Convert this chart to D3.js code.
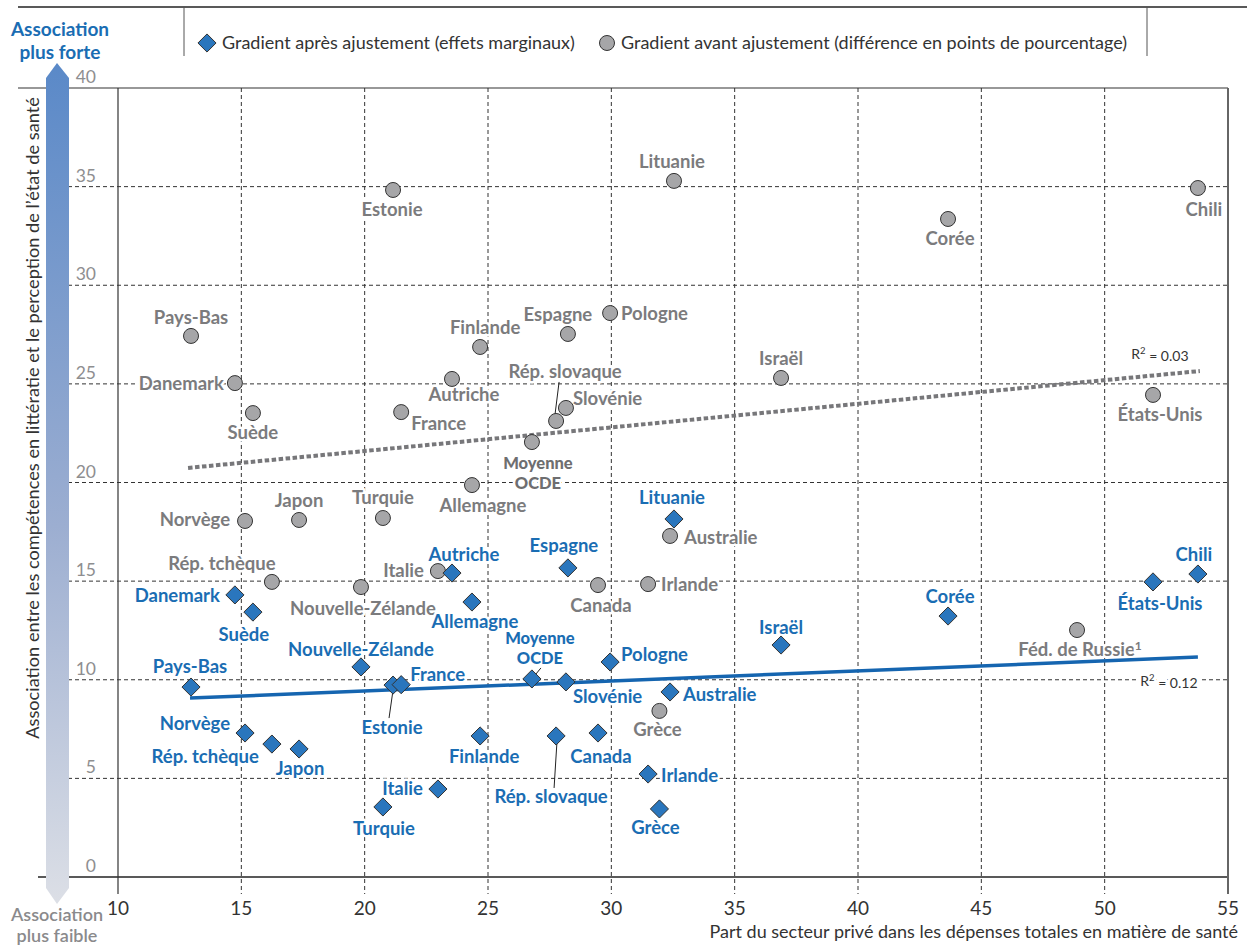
<!DOCTYPE html>
<html lang="fr">
<head>
<meta charset="utf-8">
<script src="https://cdn.jsdelivr.net/npm/d3@7"></script>
<style>
  html, body { margin: 0; padding: 0; background: #fff; }
  svg { display: block; font-family: Lato, "Open Sans", sans-serif; }
</style>
</head>
<body>
<svg id="chart" width="1247" height="945"></svg>
<script>
// Pays / économies
const countries = ["Pays-Bas", "Danemark", "Suède", "Norvège", "Rép. tchèque", "Japon",
  "Nouvelle-Zélande", "Turquie", "Estonie", "France", "Italie", "Autriche", "Allemagne",
  "Finlande", "Moyenne OCDE", "Rép. slovaque", "Slovénie", "Espagne", "Canada", "Pologne",
  "Irlande", "Grèce", "Australie", "Lituanie", "Israël", "Corée", "Féd. de Russie",
  "États-Unis", "Chili"];

// Part du secteur privé dans les dépenses totales de santé (%)
const privateShare = [12.96, 14.74, 15.47, 15.15, 16.24, 17.34, 19.85, 20.74, 21.15, 21.48,
  22.97, 23.54, 24.35, 24.68, 26.78, 27.76, 28.16, 28.24, 29.46, 29.95, 31.49, 31.95, 32.38,
  32.54, 36.88, 43.65, 48.88, 51.96, 53.78];

// Gradient avant ajustement (différence en points de pourcentage)
const gradientBefore = [27.43, 25.04, 23.52, 18.05, 14.96, 18.10, 14.70, 18.20, 34.83, 23.57,
  15.51, 25.25, 19.87, 26.87, 22.05, 23.12, 23.78, 27.53, 14.80, 28.59, 14.85, 8.42, 17.29,
  35.29, 25.30, 33.36, 12.52, 24.44, 34.93];

// Gradient après ajustement (effets marginaux)
const gradientAfter = [9.63, 14.30, 13.43, 7.30, 6.74, 6.49, 10.65, 3.55, 9.73, 9.75,
  4.46, 15.41, 13.94, 7.15, 10.04, 7.15, 9.89, 15.67, 7.30, 10.90, 5.22, 3.45, 9.38,
  18.15, 11.76, 13.23, null, 14.96, 15.36];

// Droites de tendance (extrémités) et R²
const trendBeforeX = [12.84, 53.86], trendBeforeY = [20.74, 25.65];
const trendAfterX = [12.92, 53.78], trendAfterY = [9.07, 11.15];
const r2Labels = ["0.03", "0.12"];

const xTicks = [10, 15, 20, 25, 30, 35, 40, 45, 50, 55];
const yTicks = [0, 5, 10, 15, 20, 25, 30, 35, 40];

// Placement des étiquettes : [dx, dy, ancrage, (leader x1,y1,x2,y2 relatifs)]
const placeBefore = {
  "Pays-Bas": [0, -18, "middle"], "Danemark": [-11, 0, "end"], "Suède": [0, 19, "middle"],
  "Norvège": [-15, -1, "end"], "Rép. tchèque": [-50, -18, "middle"], "Japon": [0, -19, "middle"],
  "Nouvelle-Zélande": [2, 21, "middle"], "Turquie": [0, -20, "middle"], "Estonie": [-1, 20, "middle"],
  "France": [10, 11, "start"], "Italie": [-14, -1, "end"], "Autriche": [12, 16, "middle"],
  "Allemagne": [11, 20, "middle"], "Finlande": [5, -19, "middle"],
  "Moyenne OCDE": [6, 21, "middle"],
  "Rép. slovaque": [9, -49, "middle", [3, -39, -1, -7]], "Slovénie": [7, -9, "start"],
  "Espagne": [-10, -19, "middle"], "Canada": [3, 20, "middle"], "Pologne": [11, 0, "start"],
  "Irlande": [13, 0, "start"], "Grèce": [-2, 19, "middle"], "Australie": [14, 2, "start"],
  "Lituanie": [-2, -19, "middle"], "Israël": [0, -19, "middle"], "Corée": [2, 20, "middle"],
  "Féd. de Russie": [3, 19, "middle"], "États-Unis": [7, 20, "middle"], "Chili": [6, 22, "middle"]
};
const placeAfter = {
  "Pays-Bas": [-1, -21, "middle"], "Danemark": [-15, 1, "end"], "Suède": [-9, 22, "middle"],
  "Norvège": [-15, -9, "end"], "Rép. tchèque": [-13, 12, "end"], "Japon": [1, 20, "middle"],
  "Nouvelle-Zélande": [0, -17, "middle"], "Turquie": [1, 22, "middle"],
  "Estonie": [-1, 42, "middle", [0, 5, -4, 33]], "France": [9, -10, "start"],
  "Italie": [-15, -1, "end"], "Autriche": [12, -19, "middle"], "Allemagne": [3, 19, "middle"],
  "Finlande": [4, 21, "middle"], "Moyenne OCDE": [8, -41, "middle", [0, 0, 9, -11]],
  "Rép. slovaque": [-5, 61, "middle", [1, 4, -2, 52]], "Slovénie": [7, 15, "start"],
  "Espagne": [-4, -22, "middle"], "Canada": [3, 24, "middle"], "Pologne": [11, -7, "start"],
  "Irlande": [13, 1, "start"], "Grèce": [-4, 19, "middle"], "Australie": [13, 3, "start"],
  "Lituanie": [-2, -21, "middle"], "Israël": [0, -18, "middle"], "Corée": [2, -20, "middle"],
  "États-Unis": [7, 22, "middle"], "Chili": [-4, -19, "middle"]
};

const C = {
  grid: "#333", greyText: "#7b7b7d", blueText: "#1a6db3", dark: "#333",
  circle: "#a6a6a8", diamond: "#2a76bd", trendGrey: "#77777a", trendBlue: "#1565b0",
  tick: "#8e8e90"
};

const svg = d3.select("#chart");
const plotLeft = 118, plotRight = 1228, plotTop = 88, plotBottom = 877;
const x = d3.scaleLinear().domain([10, 55]).range([plotLeft, plotRight]);
const y = d3.scaleLinear().domain([0, 40]).range([plotBottom, plotTop]);

// Dégradé de la flèche verticale
const defs = svg.append("defs");
const grad = defs.append("linearGradient").attr("id", "arrowGrad")
  .attr("x1", 0).attr("y1", 0).attr("x2", 0).attr("y2", 1);
grad.append("stop").attr("offset", "0%").attr("stop-color", "#5a89c8");
grad.append("stop").attr("offset", "55%").attr("stop-color", "#9caed1");
grad.append("stop").attr("offset", "100%").attr("stop-color", "#dcdfe6");

// Bandeau de légende
svg.append("line").attr("x1", 18).attr("x2", 1247).attr("y1", 7).attr("y2", 7)
  .attr("stroke", "#222").attr("stroke-width", 1.5);
[184, 1147].forEach(px => svg.append("line").attr("x1", px).attr("x2", px)
  .attr("y1", 7).attr("y2", 56).attr("stroke", "#555").attr("stroke-width", 1));

const diamond = d3.symbol().type(d3.symbolDiamond2).size(210);
svg.append("path").attr("d", diamond).attr("transform", "translate(207,43)")
  .attr("fill", C.diamond).attr("stroke", C.dark).attr("stroke-width", 1);
svg.append("text").attr("x", 222).attr("y", 49).attr("font-size", 18).attr("fill", C.dark)
  .text("Gradient après ajustement (effets marginaux)");
svg.append("circle").attr("cx", 607).attr("cy", 43).attr("r", 7.5)
  .attr("fill", C.circle).attr("stroke", C.dark).attr("stroke-width", 1);
svg.append("text").attr("x", 621).attr("y", 49).attr("font-size", 18).attr("fill", C.dark)
  .text("Gradient avant ajustement (différence en points de pourcentage)");

// Grille
const grid = svg.append("g");
yTicks.filter(v => v > 0 && v < 40).forEach(v => grid.append("line")
  .attr("x1", 68).attr("x2", plotRight).attr("y1", y(v)).attr("y2", y(v))
  .attr("stroke", C.grid).attr("stroke-width", 1).attr("stroke-dasharray", "4,3"));
xTicks.filter(v => v > 10 && v < 55).forEach(v => grid.append("line")
  .attr("x1", x(v)).attr("x2", x(v)).attr("y1", plotTop).attr("y2", plotBottom + 17)
  .attr("stroke", C.grid).attr("stroke-width", 1).attr("stroke-dasharray", "4,3"));

// Cadre
svg.append("line").attr("x1", 18).attr("x2", plotRight).attr("y1", plotTop).attr("y2", plotTop)
  .attr("stroke", "#333").attr("stroke-width", 1.2);
svg.append("line").attr("x1", 38).attr("x2", plotRight).attr("y1", plotBottom).attr("y2", plotBottom)
  .attr("stroke", "#222").attr("stroke-width", 1.5);
svg.append("line").attr("x1", plotLeft).attr("x2", plotLeft).attr("y1", plotTop).attr("y2", plotBottom + 17)
  .attr("stroke", "#333").attr("stroke-width", 1.2);
svg.append("line").attr("x1", plotRight).attr("x2", plotRight).attr("y1", plotTop).attr("y2", plotBottom + 17)
  .attr("stroke", "#666").attr("stroke-width", 2);

// Flèche « association »
svg.append("path")
  .attr("d", "M46,78 L57,63 L69,78 L69,888 L57,904 L46,888 Z")
  .attr("fill", "url(#arrowGrad)");
svg.append("text").attr("x", 60).attr("y", 36).attr("text-anchor", "middle")
  .attr("font-size", 19).attr("font-weight", 700).attr("fill", C.blueText).text("Association");
svg.append("text").attr("x", 60).attr("y", 59).attr("text-anchor", "middle")
  .attr("font-size", 19).attr("font-weight", 700).attr("fill", C.blueText).text("plus forte");
svg.append("text").attr("x", 57).attr("y", 921).attr("text-anchor", "middle")
  .attr("font-size", 18).attr("font-weight", 600).attr("fill", "#8a8a8c").text("Association");
svg.append("text").attr("x", 57).attr("y", 942).attr("text-anchor", "middle")
  .attr("font-size", 18).attr("font-weight", 600).attr("fill", "#8a8a8c").text("plus faible");

// Graduations
svg.append("g").selectAll("text").data(yTicks).join("text")
  .attr("x", 96).attr("y", v => y(v) - 5).attr("text-anchor", "end")
  .attr("font-size", 17.5).attr("fill", C.tick).text(v => v);
svg.append("g").selectAll("text").data(xTicks).join("text")
  .attr("x", v => x(v)).attr("y", 915).attr("text-anchor", "middle")
  .attr("font-size", 19).attr("fill", C.dark).text(v => v);

// Titres des axes
svg.append("text").attr("x", 1238).attr("y", 938).attr("text-anchor", "end")
  .attr("font-size", 18).attr("fill", C.dark)
  .text("Part du secteur privé dans les dépenses totales en matière de santé");
svg.append("text").attr("transform", "translate(39,418) rotate(-90)").attr("text-anchor", "middle")
  .attr("font-size", 18.2).attr("fill", C.dark)
  .text("Association entre les compétences en littératie et le perception de l’état de santé");

// Enregistrements par série
const rows = countries.map((name, i) => ({
  name, share: privateShare[i], before: gradientBefore[i], after: gradientAfter[i]
}));

// Étiquettes
function drawLabels(key, place, color) {
  const g = svg.append("g");
  rows.filter(d => d[key] != null).forEach(d => {
    const p = place[d.name];
    if (!p) return;
    const cx = x(d.share), cy = y(d[key]);
    const avg = d.name === "Moyenne OCDE";
    const lines = avg ? ["Moyenne", "OCDE"] : [d.name];
    lines.forEach((ln, k) => {
      const t = g.append("text")
        .attr("x", cx + p[0]).attr("y", cy + p[1] + k * 20)
        .attr("dy", "0.35em").attr("text-anchor", p[2])
        .attr("font-size", avg ? 16.5 : 18.5).attr("font-weight", avg ? 900 : 700)
        .attr("fill", avg && key === "before" ? "#6e6e70" : color)
        .attr("stroke", "#fff").attr("stroke-width", 5).attr("stroke-linejoin", "round")
        .attr("paint-order", "stroke");
      if (d.name === "Féd. de Russie") {
        t.text(ln);
        t.append("tspan").attr("font-size", 12).attr("dy", "-0.45em").text("1");
      } else t.text(ln);
    });
    if (p[3]) {
      g.append("line").attr("x1", cx + p[3][0]).attr("y1", cy + p[3][1])
        .attr("x2", cx + p[3][2]).attr("y2", cy + p[3][3])
        .attr("stroke", "#222").attr("stroke-width", 1);
    }
  });
}
drawLabels("before", placeBefore, C.greyText);
drawLabels("after", placeAfter, C.blueText);

// Droites de tendance
const line = d3.line().x(d => x(d[0])).y(d => y(d[1]));
svg.append("path").attr("d", line(d3.zip(trendBeforeX, trendBeforeY)))
  .attr("fill", "none").attr("stroke", C.trendGrey).attr("stroke-width", 4)
  .attr("stroke-dasharray", "4.5,2.5");
svg.append("path").attr("d", line(d3.zip(trendAfterX, trendAfterY)))
  .attr("fill", "none").attr("stroke", C.trendBlue).attr("stroke-width", 3.5);

// R² : halo blanc puis texte
function r2(xp, yp, val) {
  [true, false].forEach(halo => {
    const t = svg.append("text").attr("x", xp).attr("y", yp).attr("text-anchor", "middle")
      .attr("font-size", 14).attr("fill", halo ? "#fff" : C.dark);
    if (halo) t.attr("stroke", "#fff").attr("stroke-width", 6).attr("stroke-linejoin", "round");
    t.append("tspan").text("R");
    t.append("tspan").attr("font-size", 9.5).attr("dy", "-0.5em").text("2");
    t.append("tspan").attr("dy", "0.5em").text(" = " + val);
  });
}
r2(x(trendBeforeX[1]) - 40, y(trendBeforeY[1]) - 12, r2Labels[0]);
r2(x(trendAfterX[1]) - 29, y(10) + 6, r2Labels[1]);

// Marqueurs
svg.append("g").selectAll("circle").data(rows.filter(d => d.before != null)).join("circle")
  .attr("cx", d => x(d.share)).attr("cy", d => y(d.before)).attr("r", 7.5)
  .attr("fill", C.circle).attr("stroke", C.dark).attr("stroke-width", 1);
svg.append("g").selectAll("path").data(rows.filter(d => d.after != null)).join("path")
  .attr("d", diamond).attr("transform", d => `translate(${x(d.share)},${y(d.after)})`)
  .attr("fill", C.diamond).attr("stroke", C.dark).attr("stroke-width", 1);
</script>
</body>
</html>
